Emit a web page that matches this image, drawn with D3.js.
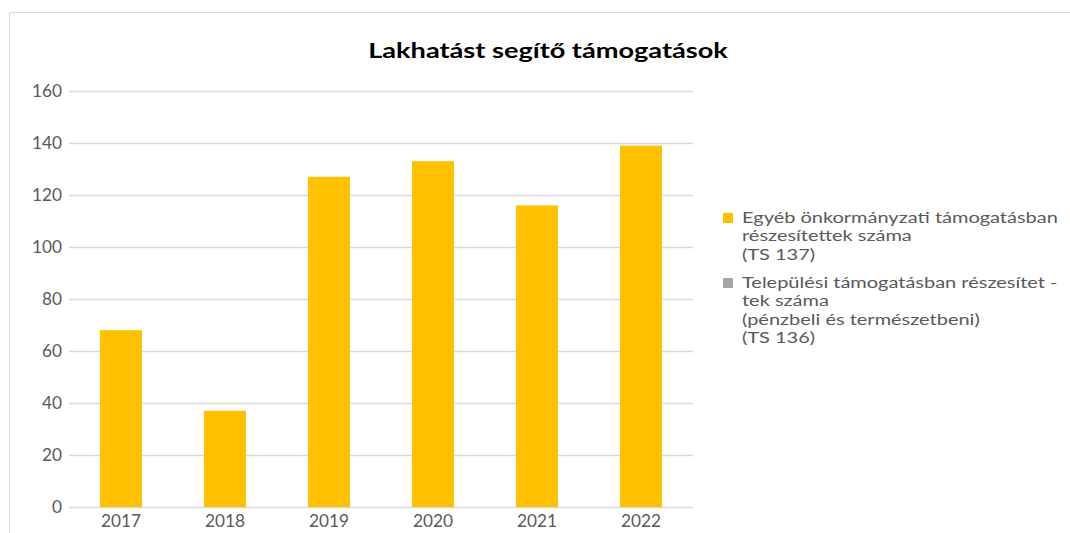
<!DOCTYPE html>
<html>
<head>
<meta charset="utf-8">
<script src="https://cdn.jsdelivr.net/npm/d3@7"></script>
<style>
  body { margin: 0; background: #fff; }
  svg { display: block; font-family: Lato, "Open Sans", sans-serif; }
</style>
</head>
<body>
<div id="chart"></div>
<script>
// chart data
var years = ["2017", "2018", "2019", "2020", "2021", "2022"];
var egyebValues = [68, 37, 127, 133, 116, 139];   // TS 137
var telepulesiValues = [0, 0, 0, 0, 0, 0];          // TS 136
var yTicks = [0, 20, 40, 60, 80, 100, 120, 140, 160];
var seriesNames = [
    ["Egyéb önkormányzati támogatásban", "részesítettek száma", "(TS 137)"],
    ["Települési támogatásban részesítet -", "tek száma", "(pénzbeli és természetbeni)", "(TS 136)"]
];
var seriesColors = ["#ffc000", "#a5a5a5"];

var width = 1070, height = 533;
var margin = {top: 91, left: 69, right: 377, bottom: 26};

// the reference text is drawn a bit wide, so stretch it horizontally
function stretch(textNode, target) {
    var w = textNode.getComputedTextLength();
    return w > 0 ? target / w : 1;
}

var svg = d3.select("#chart").append("svg")
    .attr("width", width)
    .attr("height", height);

// chart area border
svg.append("path")
    .attr("d", "M9.5," + height + " V12.5 H" + width)
    .attr("fill", "none")
    .attr("stroke", "#d9d9d9")
    .attr("stroke-width", 1);

// title
var title = svg.append("text")
    .attr("text-anchor", "middle")
    .attr("font-size", "21px")
    .attr("font-weight", "bold")
    .attr("fill", "#000")
    .text("Lakhatást segítő támogatások");
var titleSx = stretch(title.node(), 360);
title.attr("transform", "translate(548,58) scale(" + titleSx + ",1)");

var x = d3.scaleBand()
    .domain(years)
    .range([margin.left, width - margin.right])
    .paddingInner(0.596)
    .paddingOuter(0.298);

var y = d3.scaleLinear()
    .domain([0, 160])
    .range([height - margin.bottom, margin.top]);

// gridlines
svg.append("g")
    .selectAll("line")
    .data(yTicks)
    .enter().append("line")
    .attr("x1", margin.left)
    .attr("x2", width - margin.right)
    .attr("y1", function(d){ return Math.round(y(d)) + 0.5; })
    .attr("y2", function(d){ return Math.round(y(d)) + 0.5; })
    .attr("stroke", "#d9d9d9")
    .attr("stroke-width", 1.3);

// y axis labels
var yAxis = d3.axisLeft(y).tickValues(yTicks).tickSize(0).tickPadding(0);
var yg = svg.append("g")
    .attr("transform", "translate(" + (margin.left - 7) + ",0)")
    .call(yAxis);
yg.select(".domain").remove();
yg.selectAll("text")
    .attr("font-size", "16.5px")
    .attr("font-family", "Lato, sans-serif")
    .attr("fill", "#595959");
var tickSx = stretch(yg.selectAll("text").filter(function(d){ return d === 160; }).node(), 30);
yg.selectAll("text").attr("transform", "scale(" + tickSx + ",1)");

// x axis labels
var xAxis = d3.axisBottom(x).tickSize(0).tickPadding(8);
var xg = svg.append("g")
    .attr("transform", "translate(0," + (height - margin.bottom) + ")")
    .call(xAxis);
xg.select(".domain").remove();
xg.selectAll("text")
    .attr("font-size", "16.5px")
    .attr("font-family", "Lato, sans-serif")
    .attr("fill", "#595959")
    .attr("transform", "scale(" + tickSx + ",1)");

// bars (the TS 136 series is all zero, so only the yellow bars show)
svg.append("g")
    .selectAll("rect")
    .data(years)
    .enter().append("rect")
    .attr("x", function(d){ return x(d); })
    .attr("width", x.bandwidth())
    .attr("y", function(d, i){ return y(egyebValues[i]); })
    .attr("height", function(d, i){ return y(0) - y(egyebValues[i]); })
    .attr("fill", seriesColors[0]);

svg.append("g")
    .selectAll("rect")
    .data(years)
    .enter().append("rect")
    .attr("x", function(d){ return x(d); })
    .attr("width", x.bandwidth())
    .attr("y", function(d, i){ return y(telepulesiValues[i]); })
    .attr("height", function(d, i){ return y(0) - y(telepulesiValues[i]); })
    .attr("fill", seriesColors[1]);

// legend
var legendTop = [213, 278];
var legend = svg.append("g");
var legendSx = null;
seriesNames.forEach(function(lines, s){
    var g = legend.append("g").attr("transform", "translate(723," + legendTop[s] + ")");
    g.append("rect")
        .attr("width", 10)
        .attr("height", 10)
        .attr("fill", seriesColors[s]);
    lines.forEach(function(l, i){
        var t = g.append("text")
            .attr("font-size", "15px")
            .attr("fill", "#595959")
            .text(l);
        if (legendSx === null) legendSx = stretch(t.node(), 316);
        t.attr("transform", "translate(19," + (10 + i * 18.3) + ") scale(" + legendSx + ",1)");
    });
});
</script>
</body>
</html>
